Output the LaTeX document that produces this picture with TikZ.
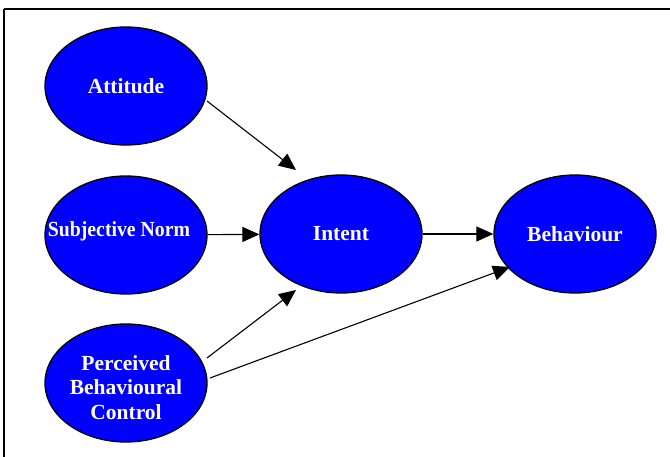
\documentclass[tikz,border=0pt]{standalone}
\usepackage{fontspec}
\setmainfont{Liberation Serif}
\usetikzlibrary{arrows.meta,shapes.geometric}
\definecolor{ellblue}{RGB}{0,0,255}
\tikzset{
  construct/.style={ellipse, draw=black, line width=1.3pt, fill=ellblue,
    minimum width=162pt, minimum height=118pt, inner sep=0pt,
    text=white, font=\fontsize{21.5}{24.7}\selectfont\bfseries, align=center},
  link/.style={draw=black, line width=1.1pt, -{Triangle[length=17pt,width=15pt]}}
}
\begin{document}
\begin{tikzpicture}[x=1pt,y=-1pt]
\useasboundingbox (0,0) rectangle (670,457);
\draw[line width=1.5pt] (4,9) -- (672,9);
\draw[line width=1.5pt] (4,9) -- (4,460);
\node[construct] (att) at (126,86) {Attitude};
\node[construct] (sn) at (126,235) {\makebox[0pt]{\hspace*{-14pt}\raisebox{4pt}[\height][\depth]{\scalebox{0.92}[1]{Subjective Norm}}}};
\node[construct] (pbc) at (126,383) {\raisebox{-7pt}[\height][\depth]{\begin{tabular}{@{}c@{}}Perceived\\Behavioural\\Control\end{tabular}}};
\node[construct] (int) at (341,234) {Intent};
\node[construct] (beh) at (575,234) {Behaviour};
\coordinate (a1) at (207,101);
\coordinate (a2) at (296,170);
\coordinate (p1) at (207,358);
\coordinate (p2) at (296,290);
\coordinate (q1) at (210,378);
\coordinate (q2) at (510,267);
\draw[link] (a1) -- (a2);
\draw[link] (sn) -- (int);
\draw[link] (int) -- (beh);
\draw[link] (p1) -- (p2);
\draw[link] (q1) -- (q2);
\end{tikzpicture}
\end{document}
